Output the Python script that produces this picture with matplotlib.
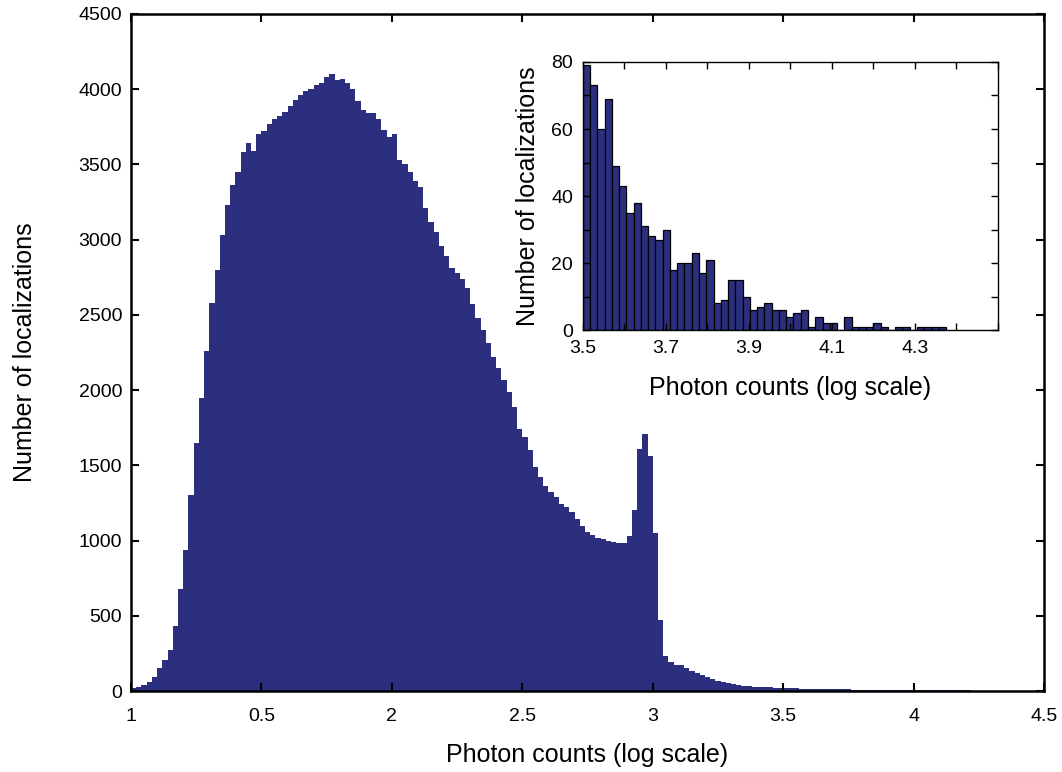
import numpy as np
import matplotlib
matplotlib.use("Agg")
import matplotlib.pyplot as plt

plt.rcParams['font.family'] = ['Liberation Sans', 'DejaVu Sans']

# ---------------- data ----------------
# main histogram: 0.02-wide bins from 1.00 to 4.50 (log photon counts)
main_bin_start = 1.0
main_bin_width = 0.02
main_counts = [
    20, 25, 40, 60, 95, 150, 205, 270, 430, 680,
    940, 1300, 1650, 1950, 2260, 2580, 2800, 3030, 3230, 3360,
    3450, 3580, 3640, 3590, 3700, 3720, 3770, 3800, 3825, 3850,
    3890, 3930, 3960, 3990, 4000, 4030, 4040, 4080, 4100, 4060,
    4070, 4040, 4000, 3920, 3860, 3845, 3841, 3800, 3730, 3680,
    3700, 3530, 3500, 3450, 3390, 3350, 3210, 3120, 3050, 2960,
    2890, 2810, 2780, 2740, 2680, 2570, 2480, 2400, 2310, 2220,
    2150, 2070, 1990, 1890, 1740, 1690, 1600, 1490, 1420, 1365,
    1325, 1290, 1245, 1225, 1190, 1140, 1100, 1055, 1040, 1020,
    1010, 1000, 993, 985, 985, 1030, 1200, 1610, 1710, 1560,
    1050, 470, 235, 190, 175, 170, 151, 135, 122, 105,
    95, 80, 66, 58, 50, 45, 40, 36, 33, 30,
    28, 26, 24, 23, 22, 20, 18, 17, 16, 15,
    14, 14, 13, 13, 12, 12, 11, 11, 10, 10,
    9, 9, 9, 8, 8, 8, 7, 7, 7, 6,
    6, 6, 5, 5, 5, 5, 4, 4, 4, 4,
    4, 3, 3, 3, 3, 3, 2, 2, 2, 2,
    2, 2, 1, 1, 1,
]
main_xticks = [1, 1.5, 2, 2.5, 3, 3.5, 4, 4.5]
main_xticklabels = ['1', '0.5', '2', '2.5', '3', '3.5', '4', '4.5']
main_yticks = [0, 500, 1000, 1500, 2000, 2500, 3000, 3500, 4000, 4500]

# inset histogram: bins of width 0.0175 starting at 3.5
inset_bin_start = 3.5
inset_bin_width = 0.0175
inset_counts = [
    79, 73, 60, 69, 49, 43, 35, 38, 31, 28,
    27, 30, 18, 20, 20, 23, 17, 21, 8, 9,
    15, 15, 10, 6, 7, 8, 6, 6, 4, 5,
    6, 1, 4, 2, 2, 0, 4, 1, 1, 1,
    2, 1, 0, 1, 1, 0, 1, 1, 1, 1,
]
inset_xticks = [3.5, 3.6, 3.7, 3.8, 3.9, 4.0, 4.1, 4.2, 4.3, 4.4, 4.5]
inset_xticklabels = ['3.5', '', '3.7', '', '3.9', '', '4.1', '', '4.3', '', '']
inset_yticks = [0, 10, 20, 30, 40, 50, 60, 70, 80]
inset_yticklabels = ['0', '', '20', '', '40', '', '60', '', '80']

xlabel = 'Photon counts (log scale)'
ylabel = 'Number of localizations'

navy = '#2b2f7e'

# ---------------- figure ----------------
fig = plt.figure(figsize=(10.62, 7.72), dpi=100)
ax = fig.add_axes([0.1234, 0.1049, 0.8597, 0.877])

edges = main_bin_start + main_bin_width * np.arange(len(main_counts) + 1)
ax.stairs(main_counts, edges, fill=True, color=navy, linewidth=0)

ax.set_xlim(1, 4.5)
ax.set_ylim(0, 4500)
ax.set_xticks(main_xticks)
ax.set_xticklabels(main_xticklabels)
ax.set_yticks(main_yticks)
ax.tick_params(direction='in', length=6, width=1.5, top=True, right=True,
               labelsize=14)
ax.tick_params(axis='y', pad=6.5)
ax.tick_params(axis='x', pad=12)
for s in ax.spines.values():
    s.set_linewidth(1.8)
ax.set_xlabel(xlabel, fontsize=18, labelpad=13)
ax.set_ylabel(ylabel, fontsize=18, labelpad=30)

# ---------------- inset ----------------
ins = fig.add_axes([0.5487, 0.5725, 0.391, 0.3472])
ins_edges = inset_bin_start + inset_bin_width * np.arange(len(inset_counts))
ins.bar(ins_edges, inset_counts, width=inset_bin_width, align='edge',
        color=navy, edgecolor='black', linewidth=0.9)
ins.set_xlim(3.5, 4.5)
ins.set_ylim(0, 80)
ins.set_xticks(inset_xticks)
ins.set_xticklabels(inset_xticklabels)
ins.set_yticks(inset_yticks)
ins.set_yticklabels(inset_yticklabels)
ins.tick_params(direction='in', length=5, width=1.0, top=True, right=True,
                labelsize=14, pad=7)
for s in ins.spines.values():
    s.set_linewidth(1.0)
ins.set_xlabel(xlabel, fontsize=18, labelpad=14)
ins.set_ylabel(ylabel, fontsize=18, labelpad=8)

fig.savefig('out.png', dpi=100)
